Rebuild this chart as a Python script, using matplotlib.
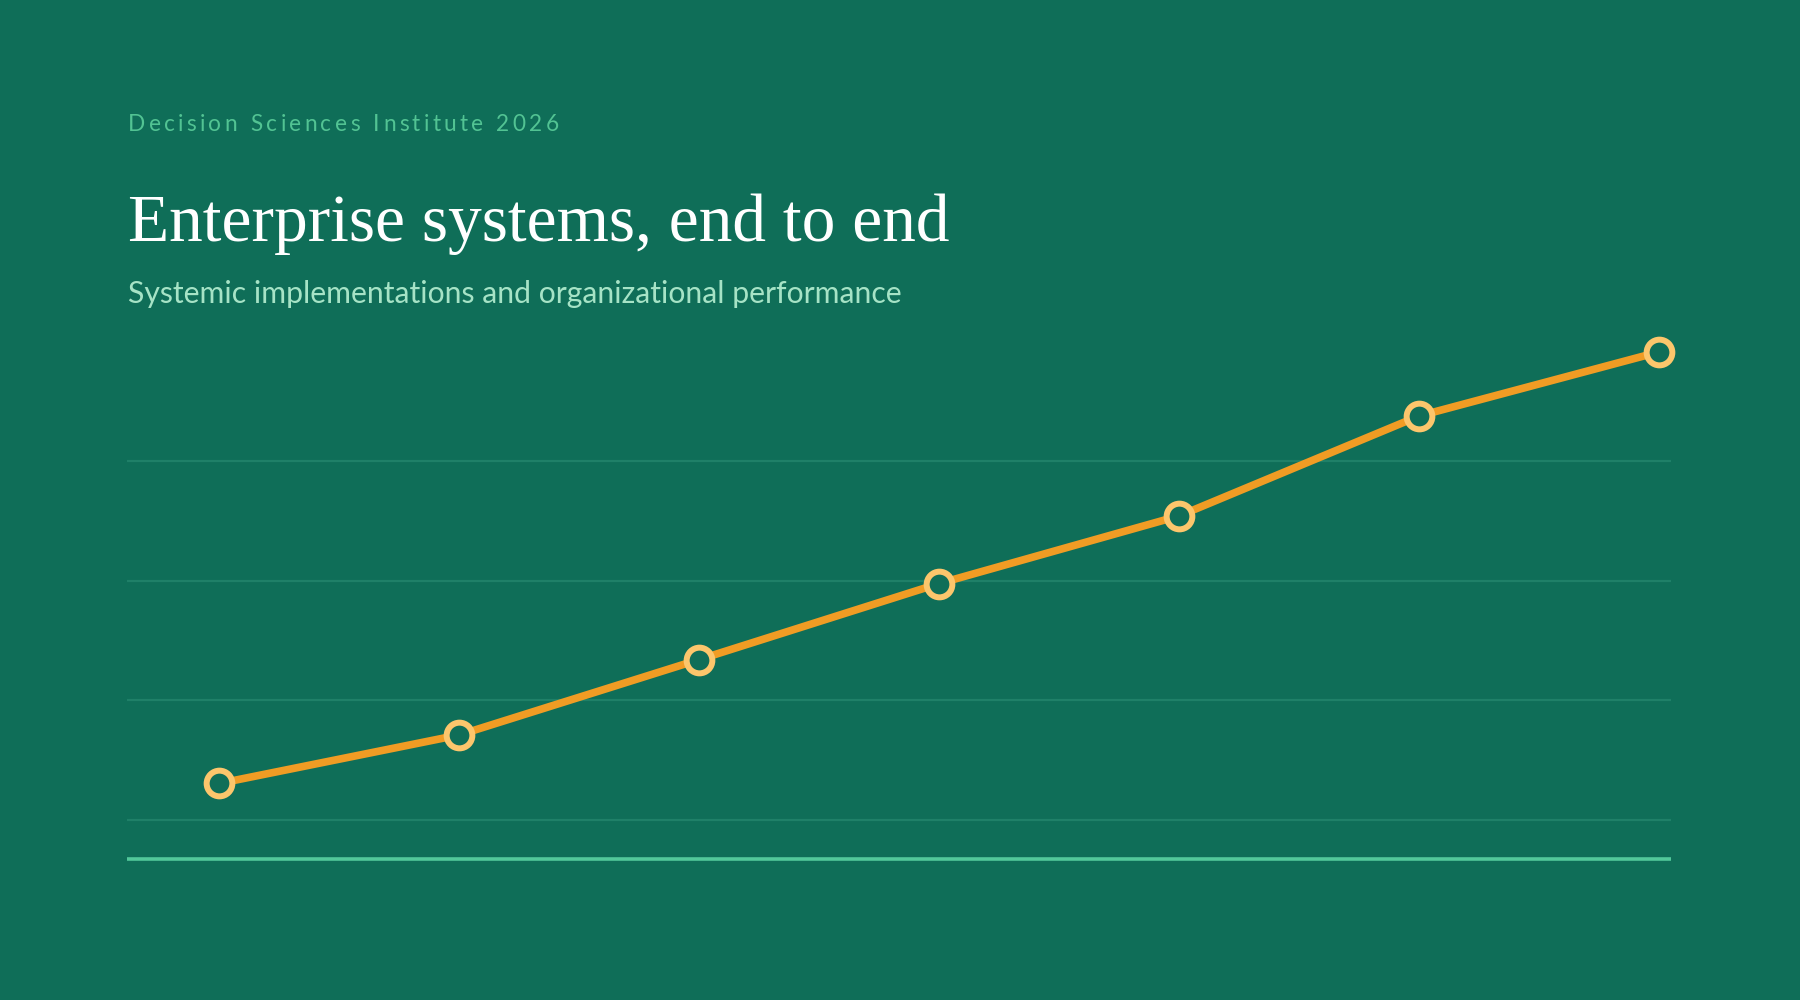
import matplotlib
matplotlib.use("Agg")
import matplotlib.pyplot as plt

# ---- data ----
periods = [0, 1, 2, 3, 4, 5, 6]
performance = [26.1, 34.2, 46.8, 59.5, 70.8, 87.5, 98.2]
grid_values = [20, 40, 60, 80]

overline = "Decision Sciences Institute 2026"
title = "Enterprise systems, end to end"
subtitle = "Systemic implementations and organizational performance"

BG = "#0f6e58"
GRID = "#1f8068"
BASE = "#52c89a"
LINE = "#f09c24"
MARK = "#fcc66c"

W, H = 1800, 1000
fig = plt.figure(figsize=(18, 10), dpi=100, facecolor=BG)
renderer = fig.canvas.get_renderer()

# axes placement (pixels -> fraction)
left, right = 127.4, 1671.4
bottom, top = 860.0, 340.0
ax = fig.add_axes([left / W, 1 - bottom / H, (right - left) / W, (bottom - top) / H])
ax.set_facecolor(BG)
ax.set_xlim(-0.383, 6.052)
ax.set_ylim(13.3, 100.2)
for s in ax.spines.values():
    s.set_visible(False)
ax.set_xticks([])
ax.set_yticks(grid_values)
ax.tick_params(axis="y", length=0, labelleft=False)
ax.grid(axis="y", color=GRID, linewidth=1.6)
ax.set_axisbelow(True)
ax.axhline(13.3 + 0.2, color=BASE, linewidth=2.6, clip_on=False, zorder=2,
           solid_capstyle="butt")

ax.plot(periods, performance, color=LINE, linewidth=5.5, solid_capstyle="round",
        zorder=3, clip_on=False)
ax.plot(periods, performance, linestyle="none", marker="o", markersize=18.5,
        markerfacecolor=BG, markeredgecolor=MARK, markeredgewidth=4.3,
        zorder=4, clip_on=False)

# ---- texts ----
def fitted_text(x_px, y_px, s, target_w, size, **kw):
    t = fig.text(x_px / W, 1 - y_px / H, s, fontsize=size, va="baseline", ha="left", **kw)
    w = t.get_window_extent(renderer).width
    t.set_fontsize(size * target_w / w)
    return t

def spaced_text(x_px, y_px, s, spacing_px, **kw):
    x = x_px
    for ch in s:
        t = fig.text(x / W, 1 - y_px / H, ch, va="baseline", ha="left", **kw)
        if ch == " ":
            probe = fig.text(0, 0, "n", **kw)
            wpx = probe.get_window_extent(renderer).width * 0.55
            probe.remove()
            t.remove()
        else:
            wpx = t.get_window_extent(renderer).width
        x += wpx + spacing_px

spaced_text(128, 131, overline, 3.3, fontsize=16.3, family="Lato", color="#52c393")

fitted_text(128, 241, title, 823, 50, family="Liberation Serif", color="white")
fitted_text(128, 303, subtitle, 770, 22, family="Lato", color="#a6e3c6")

fig.savefig("out.png", dpi=100, facecolor=BG)
